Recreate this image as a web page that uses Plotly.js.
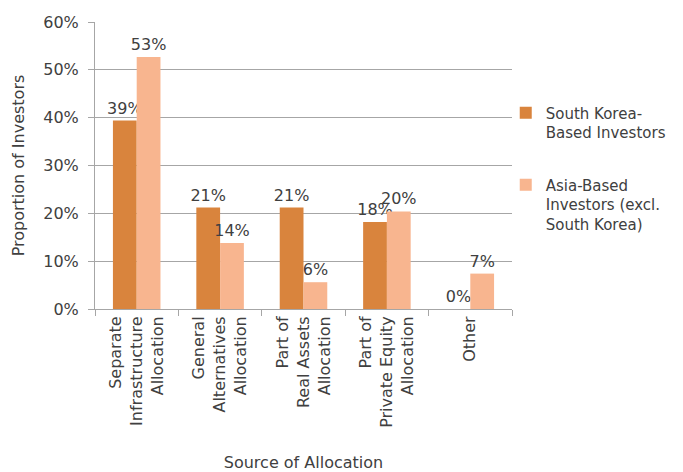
<!DOCTYPE html>
<html>
<head>
<meta charset="utf-8">
<script src="https://cdn.plot.ly/plotly-3.0.1.min.js"></script>
<style>html,body{margin:0;padding:0;background:#fff;}#chart{width:683px;height:472px;}</style>
</head>
<body>
<div id="chart"></div>
<script>
var categories = [
  "Separate<br>Infrastructure<br>Allocation",
  "General<br>Alternatives<br>Allocation",
  "Part of<br>Real Assets<br>Allocation",
  "Part of<br>Private Equity<br>Allocation",
  "Other"
];
var seriesNames = ["South Korea-<br>Based Investors", "Asia-Based<br>Investors (excl.<br>South Korea)"];
var southKorea = [0.394, 0.212, 0.212, 0.182, 0.0];
var asiaExKorea = [0.527, 0.138, 0.056, 0.204, 0.074];
var colors = ["#D9843D", "#F8B58F"];

var FONT = "DejaVu Sans, Arial, sans-serif";
var TXT = "#404040";
var FS = 16;

function mk(vals, name, color, grp) {
  return {
    type: "bar",
    x: categories,
    y: vals,
    name: name,
    legendgroup: grp,
    marker: {color: color},
    texttemplate: "%{y:.0%}",
    textposition: "outside",
    constraintext: "none",
    textfont: {family: FONT, size: FS, color: TXT},
    outsidetextfont: {family: FONT, size: FS, color: TXT},
    cliponaxis: false,
    hoverinfo: "none"
  };
}

var data = [
  mk(southKorea, seriesNames[0], colors[0], "g1"),
  mk(asiaExKorea, seriesNames[1], colors[1], "g2")
];

var layout = {
  width: 683, height: 472,
  margin: {l: 95, r: 171, t: 22, b: 163},
  paper_bgcolor: "#fff", plot_bgcolor: "#fff",
  font: {family: FONT, size: FS, color: TXT},
  barmode: "group",
  bargap: 0.43,
  bargroupgap: 0,
  showlegend: true,
  legend: {
    x: 0.985, y: 0.74, xanchor: "left", yanchor: "top",
    valign: "top",
    traceorder: "grouped",
    font: {family: FONT, size: 15, color: TXT},
    itemwidth: 30,
    tracegroupgap: 30,
    bgcolor: "rgba(0,0,0,0)"
  },
  xaxis: {
    type: "category",
    tickangle: -90,
    tickfont: {family: FONT, size: FS, color: TXT},
    showline: true, linecolor: "#A6A6A6", linewidth: 1,
    ticks: "outside", tickson: "boundaries", ticklen: 6, tickcolor: "#A6A6A6",
    showgrid: false,
    title: {text: "Source of Allocation", font: {family: FONT, size: FS, color: TXT}, standoff: 30}
  },
  yaxis: {
    range: [0, 0.6],
    dtick: 0.1,
    tickformat: ".0%",
    tickfont: {family: FONT, size: FS, color: TXT},
    ticklabelstandoff: 6,
    showline: true, linecolor: "#A6A6A6", linewidth: 1,
    ticks: "outside", ticklen: 6, tickcolor: "#A6A6A6",
    showgrid: true, gridcolor: "#A6A6A6", gridwidth: 1,
    zeroline: false,
    title: {text: "Proportion of Investors", font: {family: FONT, size: FS, color: TXT}, standoff: 14}
  }
};

Plotly.newPlot("chart", data, layout, {displayModeBar: false, staticPlot: true});
</script>
</body>
</html>
